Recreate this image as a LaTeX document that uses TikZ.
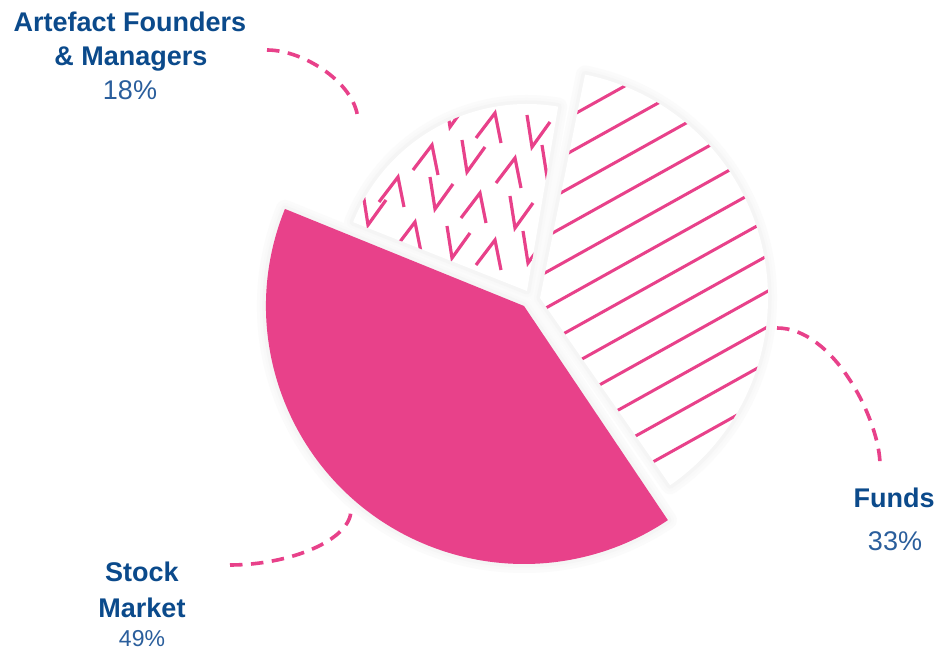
\documentclass[tikz,border=0pt]{standalone}
\usepackage{fontspec}
\setmainfont{Liberation Sans}
\definecolor{pk}{HTML}{E8418A}
\definecolor{tblue}{HTML}{0B4A8B}
\definecolor{pblue}{HTML}{2A5E9C}
\begin{document}
\begin{tikzpicture}[x=1pt,y=1pt,
  lbl/.style={anchor=base, inner sep=0pt, text=tblue, font=\fontsize{27}{27}\selectfont\bfseries},
  pct/.style={anchor=base, inner sep=0pt, text=pblue, font=\fontsize{27}{27}\selectfont},
  dashline/.style={draw=pk, line width=3.6pt, dash pattern=on 12.5pt off 8.5pt},
  stripe/.style={draw=pk, line width=3pt},
  zig/.style={draw=pk, line width=3.2pt, line join=miter},
]
\useasboundingbox (0,0) rectangle (940,656);
\fill[white] (0,0) rectangle (940,656);

\coordinate (S) at (524,350);
\coordinate (F) at (540,358);
\coordinate (A) at (527,365);

% soft glow behind slices
\foreach \w/\c in {18/1.5,12/2.5,7/4}{
  \draw[line width=\w pt, draw=black!\c, line join=round]
    (S) -- ++(157.9:258) arc[start angle=157.9,end angle=303.9,radius=258] -- cycle;
  \draw[line width=\w pt, draw=black!\c, line join=round]
    (F) -- ++(-55.2:228) arc[start angle=-55.2,end angle=78.6,radius=228] -- cycle;
  \draw[line width=\w pt, draw=black!\c, line join=round]
    (A) -- ++(80.4:187) arc[start angle=80.4,end angle=158.4,radius=187] -- cycle;
}

% Stock market slice
\fill[pk] (S) -- ++(157.9:258) arc[start angle=157.9,end angle=303.9,radius=258] -- cycle;

% Funds slice
\fill[white] (F) -- ++(-55.2:228) arc[start angle=-55.2,end angle=78.6,radius=228] -- cycle;
\begin{scope}
  \clip (F) -- ++(-55.2:228) arc[start angle=-55.2,end angle=78.6,radius=228] -- cycle;
  \foreach \i in {0,...,11}{
    \draw[stripe] (520,{511.6-35.6*\i}) -- ++(270,150.4);
  }
\end{scope}

% Artefact slice
\fill[white] (A) -- ++(80.4:187) arc[start angle=80.4,end angle=158.4,radius=187] -- cycle;
\begin{scope}
  \clip (A) -- ++(80.4:187) arc[start angle=80.4,end angle=158.4,radius=187] -- cycle;
  \foreach \x/\y in {398/479, 432/511, 495/543, 415/434, 480/463, 515/498, 495/416}{
    \draw[zig] (\x-19,\y-25) -- (\x,\y) -- (\x+6,\y-30);
  }
  \foreach \x/\y in {368/431, 435/447, 467/484, 532/509, 515/428, 452/398, 528/393, 547/479, 450/529}{
    \draw[zig] (\x-5,\y+32) -- (\x,\y) -- (\x+18,\y+25);
  }
\end{scope}

% connectors
\coordinate (artS) at (267,606);
\coordinate (artE) at (358,534);
\coordinate (funS) at (777,328);
\coordinate (funE) at (880,191);
\coordinate (stoS) at (230,91);
\coordinate (stoE) at (351,146);
\draw[dashline] (artS) .. controls (305,606) and (358,571) .. (artE);
\draw[dashline] (funS) .. controls (834,328) and (880,235) .. (funE);
\draw[dashline] (stoS) .. controls (290,91) and (351,116) .. (stoE);

% labels
\node[lbl] (art1) at (130,624) {Artefact Founders};
\node[lbl] (art2) at (131,590) {\& Managers};
\node[pct] (art3) at (130,556) {18\%};
\node[lbl] (fun1) at (894,148) {Funds};
\node[pct] (fun2) at (895,105) {33\%};
\node[lbl] (sto1) at (142,74) {Stock};
\node[lbl] (sto2) at (142,38) {Market};
\node[pct, font=\fontsize{23}{23}\selectfont] (sto3) at (142,9) {49\%};
\end{tikzpicture}
\end{document}
